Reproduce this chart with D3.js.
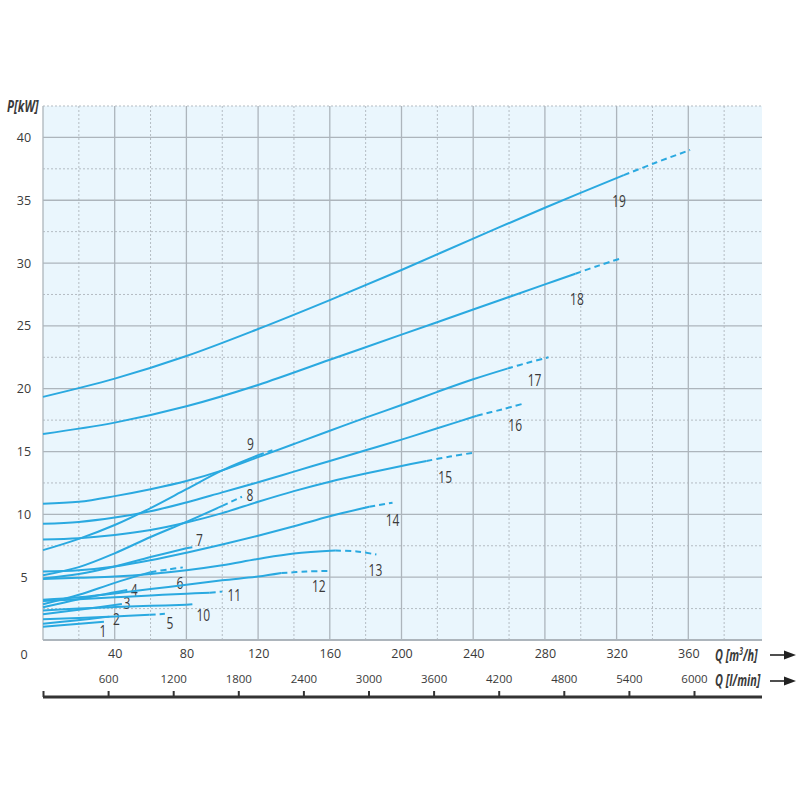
<!DOCTYPE html>
<html>
<head>
<meta charset="utf-8">
<script src="https://cdnjs.cloudflare.com/ajax/libs/d3/7.8.5/d3.min.js"></script>
<style>
  body { margin: 0; background: #fff; }
  svg text { fill: #3a3a3a; }
  .tick-lbl { font-family: "Open Sans", "Noto Sans", sans-serif; font-size: 12.5px; }
  .curve-lbl { font-family: "Open Sans", "Noto Sans", sans-serif; font-size: 16px; }
  .axis-title { font-family: "Open Sans", "Noto Sans", sans-serif; font-weight: bold; font-style: italic; font-size: 16px; }
</style>
</head>
<body>
<div id="chart"></div>
<script>
(function () {

  /***** Data *****/
  var curveNames = ["1", "2", "3", "4", "5", "6", "7", "8", "9", "10",
                    "11", "12", "13", "14", "15", "16", "17", "18", "19"]

  // flow points per curve [m3/h]
  var curveQ = [
    [0, 17, 34],
    [0, 18, 37],
    [0, 20, 44],
    [0, 20, 47],
    [0, 20, 40, 59.5, 68],
    [0, 20, 40, 60, 70, 78],
    [0, 20, 40, 60, 80, 85],
    [0, 20, 40, 60, 80, 100, 111],
    [0, 20, 40, 60, 80, 100, 120, 128],
    [0, 20, 40, 60, 80, 85],
    [0, 20, 40, 60, 80, 93, 100],
    [0, 20, 40, 60, 80, 100, 120, 133, 147, 160],
    [0, 20, 40, 60, 80, 100, 120, 140, 163, 175, 186],
    [0, 20, 40, 60, 80, 100, 120, 140, 160, 182, 195],
    [0, 20, 40, 60, 80, 100, 120, 140, 160, 180, 200, 214, 227, 240],
    [0, 20, 40, 60, 80, 100, 120, 140, 160, 180, 200, 220, 242, 256, 269],
    [0, 20, 40, 60, 80, 100, 120, 140, 160, 180, 200, 220, 240, 259, 270, 282],
    [0, 40, 80, 120, 160, 200, 240, 280, 297, 310, 323],
    [0, 40, 80, 120, 160, 200, 240, 280, 324, 342, 361]
  ]

  // power at those points [kW]
  var curveP = [
    [1.05, 1.25, 1.45],
    [1.3, 1.55, 1.86],
    [2.05, 2.4, 2.87],
    [2.6, 3.25, 3.98],
    [1.65, 1.75, 1.87, 2.0, 2.08],
    [2.85, 3.6, 4.55, 5.4, 5.62, 5.78],
    [4.9, 5.25, 5.85, 6.6, 7.3, 7.43],
    [5.15, 5.8, 6.9, 8.2, 9.4, 10.67, 11.4],
    [7.15, 8.05, 9.15, 10.5, 12.0, 13.5, 14.7, 15.1],
    [2.35, 2.5, 2.62, 2.72, 2.8, 2.87],
    [3.1, 3.25, 3.4, 3.55, 3.68, 3.77, 3.85],
    [3.2, 3.4, 3.7, 4.05, 4.4, 4.75, 5.05, 5.33, 5.45, 5.5],
    [4.85, 4.95, 5.05, 5.25, 5.55, 5.95, 6.45, 6.88, 7.12, 7.05, 6.8],
    [5.45, 5.55, 5.85, 6.35, 6.95, 7.6, 8.3, 9.05, 9.85, 10.6, 10.93],
    [8.0, 8.1, 8.35, 8.75, 9.35, 10.1, 11.0, 11.85, 12.6, 13.25, 13.85, 14.25, 14.6, 14.9],
    [9.25, 9.4, 9.75, 10.25, 10.95, 11.75, 12.55, 13.4, 14.25, 15.1, 15.95, 16.85, 17.85, 18.35, 18.85],
    [10.85, 11.0, 11.45, 12.0, 12.65, 13.5, 14.55, 15.6, 16.65, 17.7, 18.7, 19.75, 20.75, 21.6, 22.05, 22.5],
    [16.4, 17.3, 18.6, 20.3, 22.3, 24.3, 26.3, 28.3, 29.15, 29.8, 30.4],
    [19.35, 20.8, 22.6, 24.75, 27.05, 29.45, 31.95, 34.4, 37.0, 38.0, 39.0]
  ]

  // flow where the solid part stops and the dashed part starts
  var solidUntil = [34, 37, 44, 47, 59.5, 60, 80, 100, 120, 80,
                    93, 133, 163, 182, 214, 242, 259, 297, 324]

  var qTicks = [40, 80, 120, 160, 200, 240, 280, 320, 360]
  var lpmTicks = [0, 600, 1200, 1800, 2400, 3000, 3600, 4200, 4800, 5400, 6000]
  var pTicks = [5, 10, 15, 20, 25, 30, 35, 40]

  /***** Layout *****/
  // label offset from the curve's last point, px
  var labelOffset = [
    [-1, 9], [7, 2], [5, -1], [7, 0], [5, 9], [-3, 15], [4, -7], [8, -2], [-22, -6], [8, 11],
    [12, 3], [-11, 15], [-1, 15], [0, 17], [-28, 24], [-10, 22], [-14, 22], [-45, 41], [-71, 51]
  ]

  var width = 800
  var height = 800
  var plot = { left: 43, right: 762, top: 106, bottom: 640 }

  var x = d3.scaleLinear().domain([0, 400]).range([plot.left, 760])
  var y = d3.scaleLinear().domain([0, 42.5]).range([plot.bottom, plot.top])
  var xl = d3.scaleLinear().domain([0, 6000]).range([plot.left, 694])

  var blue = "#2aa9e0"

  var svg = d3.select("#chart").append("svg")
      .attr("width", width)
      .attr("height", height)

  svg.append("rect")
      .attr("x", plot.left).attr("y", plot.top)
      .attr("width", plot.right - plot.left).attr("height", plot.bottom - plot.top)
      .attr("fill", "#eaf6fd")

  // grid
  var grid = svg.append("g")
  d3.range(20, 400, 40).forEach(function (q) {
    grid.append("line")
        .attr("x1", x(q)).attr("x2", x(q)).attr("y1", plot.top).attr("y2", plot.bottom)
        .attr("stroke", "#b4bcc3").attr("stroke-width", 1).attr("stroke-dasharray", "2,2")
  })
  d3.range(2.5, 43, 5).forEach(function (p) {
    grid.append("line")
        .attr("x1", plot.left).attr("x2", plot.right).attr("y1", y(p)).attr("y2", y(p))
        .attr("stroke", "#b4bcc3").attr("stroke-width", 1).attr("stroke-dasharray", "2,2")
  })
  d3.range(0, 400, 40).forEach(function (q) {
    grid.append("line")
        .attr("x1", x(q)).attr("x2", x(q)).attr("y1", plot.top).attr("y2", plot.bottom)
        .attr("stroke", "#adb5bc").attr("stroke-width", 1.3)
  })
  d3.range(0, 41, 5).forEach(function (p) {
    grid.append("line")
        .attr("x1", plot.left).attr("x2", plot.right).attr("y1", y(p)).attr("y2", y(p))
        .attr("stroke", "#adb5bc").attr("stroke-width", p === 0 ? 2 : 1.3)
  })

  // curves
  var line = d3.line()
      .x(function (d) { return x(d[0]) })
      .y(function (d) { return y(d[1]) })
      .curve(d3.curveCatmullRom.alpha(0.5))

  var curves = svg.append("g")
  curveNames.forEach(function (name, i) {
    var pts = curveQ[i].map(function (q, j) { return [q, curveP[i][j]] })
    var solid = pts.filter(function (d) { return d[0] <= solidUntil[i] })
    var dashed = pts.filter(function (d) { return d[0] >= solidUntil[i] })

    curves.append("path")
        .attr("d", line(solid))
        .attr("fill", "none").attr("stroke", blue).attr("stroke-width", 2)
    if (dashed.length > 1) {
      curves.append("path")
          .attr("d", line(dashed))
          .attr("fill", "none").attr("stroke", blue).attr("stroke-width", 2)
          .attr("stroke-dasharray", "6,4")
    }

    var last = pts[pts.length - 1]
    curves.append("text")
        .attr("class", "curve-lbl")
        .attr("transform", "translate(" + (x(last[0]) + labelOffset[i][0]) + "," +
              (y(last[1]) + labelOffset[i][1]) + ") scale(0.75,1)")
        .attr("text-anchor", "middle")
        .attr("dominant-baseline", "central")
        .text(name)
  })

  // axes labels
  var xAxis = svg.append("g")
      .attr("transform", "translate(0," + plot.bottom + ")")
      .call(d3.axisBottom(x).tickValues(qTicks).tickSize(0).tickPadding(9))
  xAxis.select(".domain").remove()
  xAxis.selectAll("text").attr("class", "tick-lbl").attr("fill", null)

  svg.append("text").attr("class", "tick-lbl")
      .attr("x", 24).attr("y", plot.bottom + 19)
      .attr("text-anchor", "middle").text("0")

  var yAxis = svg.append("g")
      .attr("transform", "translate(24,0)")
      .call(d3.axisLeft(y).tickValues(pTicks).tickSize(0).tickPadding(0))
  yAxis.select(".domain").remove()
  yAxis.selectAll("text").attr("class", "tick-lbl").attr("fill", null)
      .attr("text-anchor", "middle")

  // l/min axis
  var axisY = 697
  var lAxis = svg.append("g")
      .attr("transform", "translate(0," + axisY + ")")
      .call(d3.axisTop(xl).tickValues(lpmTicks).tickSize(6).tickPadding(8)
            .tickFormat(function (d) { return d === 0 ? "" : d }))
  lAxis.select(".domain").remove()
  lAxis.selectAll(".tick line").attr("stroke", "#333").attr("stroke-width", 2)
  lAxis.selectAll("text").attr("class", "tick-lbl").attr("fill", null)
      .style("font-size", "11.5px")
  svg.append("line")
      .attr("x1", plot.left).attr("x2", plot.right)
      .attr("y1", axisY).attr("y2", axisY)
      .attr("stroke", "#333").attr("stroke-width", 3)

  // titles (squeezed horizontally to look condensed)
  svg.append("text").attr("class", "axis-title")
      .attr("transform", "translate(7,112) scale(0.72,1)")
      .text("P[kW]")

  var qt = svg.append("text").attr("class", "axis-title")
      .attr("transform", "translate(715,661) scale(0.68,1)")
  qt.append("tspan").text("Q [m")
  qt.append("tspan").attr("dy", -6).style("font-size", "10px").text("3")
  qt.append("tspan").attr("dy", 6).text("/h]")

  svg.append("text").attr("class", "axis-title")
      .attr("transform", "translate(715,686) scale(0.68,1)")
      .text("Q [l/min]")

  function arrow(yy) {
    svg.append("line")
        .attr("x1", 770).attr("x2", 786).attr("y1", yy).attr("y2", yy)
        .attr("stroke", "#222").attr("stroke-width", 1.6)
    svg.append("path")
        .attr("d", "M784," + (yy - 4.5) + "L796," + yy + "L784," + (yy + 4.5) + "Z")
        .attr("fill", "#222")
  }
  arrow(655)
  arrow(681)

})()
</script>
</body>
</html>
